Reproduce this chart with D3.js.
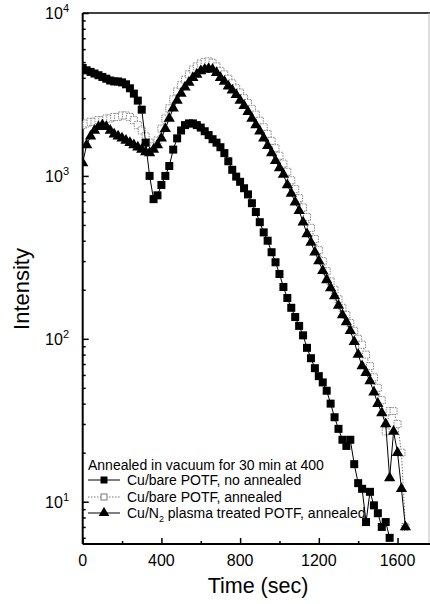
<!DOCTYPE html>
<html>
<head>
<meta charset="utf-8">
<script src="https://cdn.jsdelivr.net/npm/d3@7"></script>
<style>
body { margin: 0; background: #fff; }
svg { display: block; font-family: "Liberation Sans", Arial, sans-serif; }
</style>
</head>
<body>
<div id="chart"></div>
<script>
// time axis (sec), shared by the three series
var times = [0,20,40,60,80,100,120,140,160,180,200,220,240,260,280,300,320,340,360,380,
  400,420,440,460,480,500,520,540,560,580,600,620,640,660,680,700,720,740,760,780,
  800,820,840,860,880,900,920,940,960,980,1000,1020,1040,1060,1080,1100,1120,1140,1160,1180,
  1200,1220,1240,1260,1280,1300,1320,1340,1360,1380,1400,1420,1440,1460,1480,1500,1520,1540,1560,1580,
  1600,1620,1640];

// Cu/bare POTF, no annealed
var noAnnealed = [4600,4450,4350,4250,4150,4050,3950,3850,3800,3800,3750,3650,3450,3200,2900,2550,1600,1000,720,760,
  880,1000,1150,1450,1700,1900,2050,2100,2100,2050,1980,1880,1780,1680,1600,1500,1380,1230,1090,990,
  920,840,770,680,600,520,450,400,340,295,250,208,178,155,136,120,105,88,76,66,
  59,54,48,40,33,28,24,22,24,17,13,12,7.5,11.5,9.5,8.5,7,7.5,6,null,
  null,null,null];

// Cu/bare POTF, annealed
var bareAnnealed = [2050,2100,2150,2150,2200,2200,2250,2250,2300,2300,2350,2350,2300,2200,2050,1900,1750,1600,1520,1650,
  1950,2250,2600,2950,3300,3600,3900,4200,4500,4700,4900,5000,5050,4950,4700,4400,4200,3950,3700,3450,
  3250,3000,2800,2580,2380,2180,1990,1810,1640,1480,1330,1190,1060,940,830,730,640,560,480,410,
  350,300,260,225,200,175,155,140,125,112,100,92,80,68,58,50,42,27,36,36,
  30,20,7];

// Cu/N2 plasma treated POTF, annealed
var plasmaAnnealed = [1200,1550,1750,1900,2000,2050,2000,1900,1800,1750,1700,1650,1600,1550,1500,1450,1400,1380,1450,1550,
  1700,1950,2250,2600,2900,3200,3500,3750,4000,4200,4400,4500,4550,4500,4300,4000,3800,3550,3350,3150,
  2900,2700,2480,2250,2050,1880,1700,1530,1380,1240,1120,1020,880,780,690,610,520,440,390,340,
  300,262,230,205,183,160,140,127,112,96,80,68,62,55,47,40,35,30,14,27,
  20,12,7];

var xTicks = [0,400,800,1200,1600];
var xMinor = [200,600,1000,1400];
var yTicks = [10,100,1000,10000];
var yExp = ["1","2","3","4"];
var legendTitle = "Annealed in vacuum for 30 min at 400";

var w = 430, h = 604;
var padL = 82.7, padR = 429, padT = 13, padB = 544;

var svg = d3.select("#chart").append("svg")
  .attr("width", w).attr("height", h)
  .style("background", "#FFFFFF");

var x = d3.scaleLinear().domain([0,1760]).range([padL,padR]);
var y = d3.scaleLog().domain([5.5,10000]).range([padB,padT]);

var yMinor = [];
[1,10,100,1000].forEach(function(d){
  for (var k=2;k<=9;k++){ if (d*k>5.5) yMinor.push(d*k); }
});

svg.append("defs").append("clipPath").attr("id","clip")
  .append("rect").attr("x",padL).attr("y",padT).attr("width",padR-padL).attr("height",padB-padT);

// frame
svg.append("line").attr("x1",padL).attr("x2",w).attr("y1",padT).attr("y2",padT)
  .attr("stroke","#000").attr("stroke-width",1.5);
svg.append("line").attr("x1",padR).attr("x2",padR).attr("y1",padT).attr("y2",padB)
  .attr("stroke","#bbb").attr("stroke-width",1);

// axes (ticks pointing inward)
svg.append("g").attr("transform","translate(0,"+padB+")")
  .call(d3.axisBottom(x).tickValues(xTicks).tickSize(-6).tickFormat(""));
svg.append("g").attr("transform","translate(0,"+padB+")")
  .call(d3.axisBottom(x).tickValues(xMinor).tickSize(-3).tickFormat(""));
svg.append("g").attr("transform","translate("+padL+",0)")
  .call(d3.axisLeft(y).tickValues(yTicks).tickSize(-6).tickFormat(""));
svg.append("g").attr("transform","translate("+padL+",0)")
  .call(d3.axisLeft(y).tickValues(yMinor).tickSize(-3).tickFormat(""));
svg.selectAll(".domain").remove();
svg.selectAll(".tick line").attr("stroke-width",1.5);
svg.append("line").attr("x1",padL).attr("x2",w).attr("y1",padB).attr("y2",padB)
  .attr("stroke","#000").attr("stroke-width",2);
svg.append("line").attr("x1",padL).attr("x2",padL).attr("y1",padT).attr("y2",padB)
  .attr("stroke","#000").attr("stroke-width",2);

// tick labels
svg.selectAll(".xlab").data(xTicks).enter().append("text")
  .attr("x", function(d){return x(d)}).attr("y", 566)
  .attr("text-anchor","middle").attr("font-size",16).text(function(d){return d});

var yl = svg.selectAll(".ylab").data(yTicks).enter().append("text")
  .attr("x", 69).attr("y", function(d){return y(d)+6})
  .attr("text-anchor","end").attr("font-size",16);
yl.append("tspan").text("10");
yl.append("tspan").attr("dy",-7).attr("font-size",11).text(function(d,i){return yExp[i]});

svg.append("text").attr("x",258).attr("y",593).attr("text-anchor","middle")
  .attr("font-size",21.5).text("Time (sec)");
svg.append("text").attr("transform","translate(29,289) rotate(-90)")
  .attr("text-anchor","middle").attr("font-size",22).text("Intensity");

// series
var plot = svg.append("g").attr("clip-path","url(#clip)");

function pts(vals){
  return vals.map(function(v,i){return [times[i], v]}).filter(function(d){return d[1]!=null});
}
var line = d3.line().x(function(d){return x(d[0])}).y(function(d){return y(d[1])});

var s2 = pts(bareAnnealed), s3 = pts(plasmaAnnealed), s1 = pts(noAnnealed);

plot.append("path").datum(s2).attr("d",line).attr("fill","none")
  .attr("stroke","#777").attr("stroke-width",1).attr("stroke-dasharray","1.5,1.5");
plot.selectAll(".osq").data(s2).enter().append("rect")
  .attr("x",function(d){return x(d[0])-3.5}).attr("y",function(d){return y(d[1])-3.5})
  .attr("width",7).attr("height",7).attr("fill","#fff").attr("stroke","#888").attr("stroke-width",1)
  .attr("stroke-dasharray","1.5,1");

plot.append("path").datum(s3).attr("d",line).attr("fill","none")
  .attr("stroke","#000").attr("stroke-width",1);
var tri = d3.symbol().type(d3.symbolTriangle).size(55);
plot.selectAll(".tri").data(s3).enter().append("path")
  .attr("d",tri).attr("transform",function(d){return "translate("+x(d[0])+","+y(d[1])+")"})
  .attr("fill","#000");

plot.append("path").datum(s1).attr("d",line).attr("fill","none")
  .attr("stroke","#000").attr("stroke-width",1);
plot.selectAll(".fsq").data(s1).enter().append("rect")
  .attr("x",function(d){return x(d[0])-4}).attr("y",function(d){return y(d[1])-4})
  .attr("width",8).attr("height",8).attr("fill","#000");

// legend
var lg = svg.append("g");
lg.append("text").attr("x",88).attr("y",470).attr("font-size",14).text(legendTitle);
var rows = [480,497,513];
lg.append("line").attr("x1",88).attr("x2",120).attr("y1",rows[0]).attr("y2",rows[0]).attr("stroke","#000");
lg.append("rect").attr("x",100.5).attr("y",rows[0]-3.5).attr("width",7).attr("height",7).attr("fill","#000");
lg.append("text").attr("x",127).attr("y",rows[0]+5).attr("font-size",14).text("Cu/bare POTF, no annealed");
lg.append("line").attr("x1",88).attr("x2",120).attr("y1",rows[1]).attr("y2",rows[1])
  .attr("stroke","#777").attr("stroke-dasharray","1.5,1.5");
lg.append("rect").attr("x",101).attr("y",rows[1]-3).attr("width",6).attr("height",6)
  .attr("fill","#fff").attr("stroke","#777");
lg.append("text").attr("x",127).attr("y",rows[1]+5).attr("font-size",14).text("Cu/bare POTF, annealed");
lg.append("line").attr("x1",88).attr("x2",120).attr("y1",rows[2]).attr("y2",rows[2]).attr("stroke","#000");
lg.append("path").attr("d",d3.symbol().type(d3.symbolTriangle).size(50)).attr("transform","translate(104,"+rows[2]+")").attr("fill","#000");
var t3 = lg.append("text").attr("x",127).attr("y",rows[2]+5).attr("font-size",14);
t3.append("tspan").text("Cu/N");
t3.append("tspan").attr("dy",4).attr("font-size",9).text("2");
t3.append("tspan").attr("dy",-4).text(" plasma treated POTF, annealed");
</script>
</body>
</html>
